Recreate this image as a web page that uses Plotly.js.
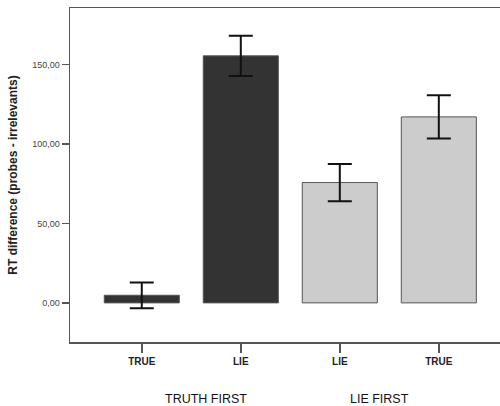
<!DOCTYPE html>
<html>
<head>
<meta charset="utf-8">
<script src="https://cdn.plot.ly/plotly-3.0.1.min.js"></script>
<style>html,body{margin:0;padding:0;background:#fff;overflow:hidden;width:500px;height:406px;}#chart{width:520px;height:406px;}</style>
</head>
<body>
<div id="chart"></div>
<script>
// Data
const tickLabels = ["TRUE", "LIE", "LIE", "TRUE"];
const groupLabels = ["TRUTH FIRST", "LIE FIRST"];
const truthFirstX = [0, 1];
const truthFirstMeans = [4.8, 155.4];
const truthFirstErr = [8.1, 12.6];
const lieFirstX = [2, 3];
const lieFirstMeans = [75.7, 117.0];
const lieFirstErr = [11.7, 13.6];
const yTicks = [0, 50, 100, 150];

const errStyle = {type: 'data', visible: true, color: '#111111', thickness: 2, width: 12};

const traces = [
  {
    type: 'bar', x: truthFirstX, y: truthFirstMeans, name: groupLabels[0], width: 0.758,
    marker: {color: '#333333', line: {color: '#555555', width: 1}},
    error_y: Object.assign({array: truthFirstErr}, errStyle),
    hoverinfo: 'y'
  },
  {
    type: 'bar', x: lieFirstX, y: lieFirstMeans, name: groupLabels[1], width: 0.758,
    marker: {color: '#cccccc', line: {color: '#555555', width: 1}},
    error_y: Object.assign({array: lieFirstErr}, errStyle),
    hoverinfo: 'y'
  }
];

const layout = {
  width: 520, height: 406,
  margin: {l: 70, r: 0, t: 8, b: 64},
  paper_bgcolor: '#ffffff', plot_bgcolor: '#ffffff',
  separators: ',.',
  showlegend: false,
  barmode: 'overlay',
  font: {family: 'Arial, "Liberation Sans", sans-serif', color: '#222'},
  xaxis: {
    range: [-0.725, 3.82],
    tickvals: [0, 1, 2, 3],
    ticktext: tickLabels,
    ticks: 'outside', ticklen: 9, tickwidth: 1.5, tickcolor: '#555',
    showline: true, linecolor: '#555', linewidth: 1.5, mirror: true,
    showgrid: false, zeroline: false,
    tickfont: {size: 10, color: '#222', family: '"Liberation Sans Narrow", Arial, sans-serif', weight: 'bold'}
  },
  yaxis: {
    range: [-24.6, 185.5],
    tickvals: yTicks,
    tickformat: '.2f',
    ticks: 'outside', ticklen: 7, tickwidth: 1.5, tickcolor: '#555',
    showline: true, linecolor: '#555', linewidth: 1.5,
    showgrid: false, zeroline: false,
    tickfont: {size: 9, color: '#444'},
    title: {text: 'RT difference (probes - irrelevants)', standoff: 12,
            font: {size: 12, color: '#222', weight: 'bold'}}
  },
  annotations: [
    {x: 0.65, y: -0.17, xref: 'x', yref: 'paper', text: groupLabels[0], showarrow: false,
     font: {size: 12.5, color: '#111'}, xanchor: 'center', yanchor: 'middle'},
    {x: 2.40, y: -0.17, xref: 'x', yref: 'paper', text: groupLabels[1], showarrow: false,
     font: {size: 12.5, color: '#111'}, xanchor: 'center', yanchor: 'middle'}
  ]
};

Plotly.newPlot('chart', traces, layout, {displayModeBar: false, staticPlot: true});
</script>
</body>
</html>
